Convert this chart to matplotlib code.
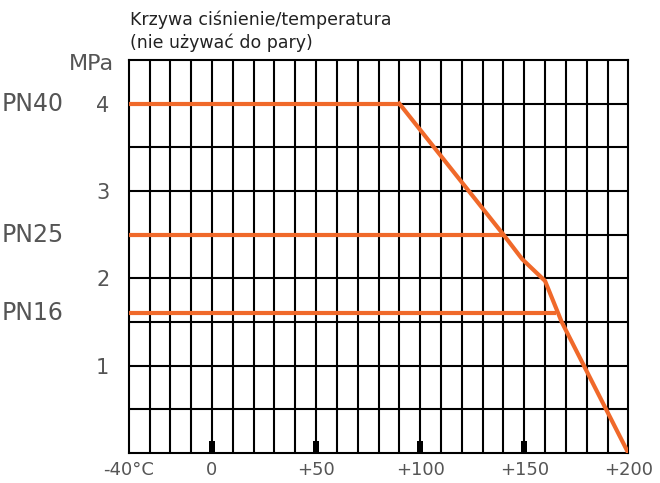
import numpy as np
import matplotlib
matplotlib.use('Agg')
from matplotlib import pyplot as plt
from matplotlib import transforms

# dane
curve_t = [90, 140, 149, 160, 168, 200]
curve_p = [4.0, 2.5, 2.22, 1.97, 1.5, 0.0]
pn_names = ['PN40', 'PN25', 'PN16']
pn_p = [4.0, 2.5, 1.6]
pn_t_end = [90, 140, 165.5]
x_ticks = [-40, 0, 50, 100, 150, 200]
x_labels = ['-40°C', '0', '+50', '+100', '+150', '+200']
y_ticks = [1, 2, 3, 4]
marks_t = [0, 50, 100, 150]

orange = '#F0692A'
gray = '#555555'
plt.rcParams['font.family'] = ['DejaVu Sans']

fig = plt.figure(figsize=(6.6, 4.83), dpi=100)
ax = fig.add_axes([0.195, 0.062, 0.757, 0.814])
ax.set_xlim(-40, 200)
ax.set_ylim(0, 4.5)

# siatka
for x in np.arange(-30, 200, 10):
    ax.axvline(x, color='black', lw=1.5, zorder=1)
for y in np.arange(0.5, 4.5, 0.5):
    ax.axhline(y, color='black', lw=1.5, zorder=1)
for s in ax.spines.values():
    s.set_linewidth(1.5)

# znaczniki przy osi
ax.bar(marks_t, [0.14] * len(marks_t), width=2.8, color='black', zorder=2)

# linie PN i krzywa
for p, t in zip(pn_p, pn_t_end):
    ax.plot([-40, t], [p, p], color=orange, lw=3, zorder=3, solid_capstyle='butt')
ax.plot(curve_t, curve_p, color=orange, lw=3, zorder=3)

ax.set_xticks(x_ticks)
ax.set_xticklabels(x_labels, fontsize=13, color=gray)
ax.set_yticks(y_ticks)
ax.set_yticklabels([str(v) for v in y_ticks], fontsize=15, color=gray)
ax.tick_params(length=0, pad=14)
ax.tick_params(axis='x', pad=6)

trans = transforms.blended_transform_factory(fig.transFigure, ax.transData)
for name, p in zip(pn_names, pn_p):
    fig.text(0.003, p, name, transform=trans, fontsize=17, color=gray, va='center', ha='left')
ax.text(-0.03, 4.45, 'MPa', transform=transforms.blended_transform_factory(ax.transAxes, ax.transData),
        fontsize=16, color=gray, ha='right', va='center')

fig.text(0.197, 0.960, 'Krzywa ciśnienie/temperatura', fontsize=12.5, color='#222222', va='center')
fig.text(0.197, 0.912, '(nie używać do pary)', fontsize=12.5, color='#222222', va='center')

fig.savefig('out.png', dpi=100)
